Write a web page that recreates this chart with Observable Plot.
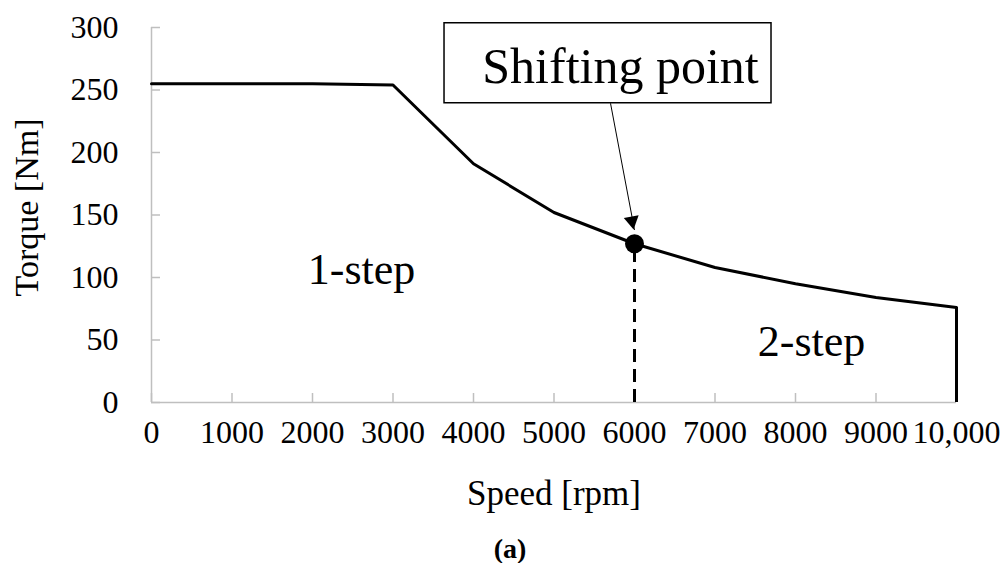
<!DOCTYPE html>
<html>
<head>
<meta charset="utf-8">
<script src="https://cdn.jsdelivr.net/npm/d3@7"></script>
<script src="https://cdn.jsdelivr.net/npm/@observablehq/plot@0.6"></script>
<style>
  html, body { margin: 0; padding: 0; background: white; overflow: hidden; }
  #chart svg { display: block; }
  #caption { height: 33px; padding-top: 5px; padding-left: 12px; line-height: 38px; text-align: center; font-family: "Liberation Serif", serif; font-weight: bold; font-size: 28px; color: #000; }
</style>
</head>
<body>
<div id="chart"></div>
<div id="caption">(a)</div>
<script>
// Data
const speed = [0, 1000, 2000, 3000, 4000, 5000, 6000, 7000, 8000, 9000, 10000];
const torque = [255, 255, 255, 254, 191, 152, 127, 108, 95, 84, 76];
const xTicks = [0, 1000, 2000, 3000, 4000, 5000, 6000, 7000, 8000, 9000, 10000];
const xTickLabels = ["0", "1000", "2000", "3000", "4000", "5000", "6000", "7000", "8000", "9000", "10,000"];
const yTicks = [0, 50, 100, 150, 200, 250, 300];
const shiftSpeed = 6000;
const shiftTorque = 127;
const regionLabels = [
  {text: "1-step", x: 2609, y: 95},
  {text: "2-step", x: 8199, y: 37.6}
];
const calloutBox = [{x1: 3640, x2: 7702, y1: 239.4, y2: 303.4}];
const calloutText = [{text: "Shifting point", x: 5826, y: 256}];
const calloutArrow = [{x1: 5702, y1: 239.4, x2: 6000, y2: 138}];
const arrowHead = [{x: 5969, y: 145.2}];

const W = 1008, H = 525;
const mL = 151, mR = 52, mT = 27, mB = 123;
const plotW = W - mL - mR, plotH = H - mT - mB;
const data = speed.map((s, i) => ({speed: s, torque: torque[i]}));
const axisGray = "#bfbfbf";

const chart = Plot.plot({
  width: W,
  height: H,
  marginLeft: mL,
  marginRight: mR,
  marginTop: mT,
  marginBottom: mB,
  style: {fontFamily: "Liberation Serif, Times New Roman, serif", fontSize: "32px", color: "black", background: "white"},
  x: {domain: [0, 10000]},
  y: {domain: [0, 300]},
  marks: [
    // axes lines & ticks
    Plot.ruleX([0], {y1: 0, y2: 300, stroke: axisGray, strokeWidth: 1.5}),
    Plot.ruleY([0], {x1: 0, x2: 10000, stroke: axisGray, strokeWidth: 1.5}),
    Plot.tickY(yTicks, {y: d => d, insetRight: plotW - 9, stroke: axisGray, strokeWidth: 1.5}),
    Plot.tickX(xTicks, {x: d => d, insetTop: plotH - 9, stroke: axisGray, strokeWidth: 1.5}),
    Plot.axisY({ticks: yTicks, tickSize: 0, tickPadding: 33, label: null, fontSize: 32}),
    Plot.axisX({ticks: xTicks, tickSize: 0, tickPadding: 18, label: null, fontSize: 32,
      tickFormat: (d) => xTickLabels[xTicks.indexOf(d)]}),
    // axis titles
    Plot.text(["Speed [rpm]"], {frameAnchor: "bottom", textAnchor: "middle", dy: 102, lineAnchor: "bottom", text: d => d, fontSize: 35, fill: "black"}),
    Plot.text(["Torque [Nm]"], {frameAnchor: "left", textAnchor: "middle", rotate: -90, dx: -113.5, dy: -7.5, lineAnchor: "bottom", text: d => d, fontSize: 34, fill: "black"}),
    // main curve
    Plot.line(data, {x: "speed", y: "torque", stroke: "black", strokeWidth: 3}),
    Plot.ruleX([speed[speed.length - 1]], {y1: 0, y2: torque[torque.length - 1], stroke: "black", strokeWidth: 3}),
    Plot.ruleX([shiftSpeed], {y1: 0, y2: shiftTorque, stroke: "black", strokeWidth: 3, strokeDasharray: "13,7"}),
    Plot.dot([{x: shiftSpeed, y: shiftTorque}], {x: "x", y: "y", r: 9.5, fill: "black", stroke: "none"}),
    // region labels
    Plot.text(regionLabels, {x: "x", y: "y", text: "text", fontSize: 44, lineAnchor: "bottom", fill: "black"}),
    // callout
    Plot.rect(calloutBox, {x1: "x1", x2: "x2", y1: "y1", y2: "y2", fill: "white", stroke: "black", strokeWidth: 1.5, clip: false}),
    Plot.text(calloutText, {x: "x", y: "y", text: "text", fontSize: 50, lineAnchor: "bottom", fill: "black"}),
    Plot.link(calloutArrow, {x1: "x1", y1: "y1", x2: "x2", y2: "y2", stroke: "black", strokeWidth: 1}),
    Plot.dot(arrowHead, {x: "x", y: "y", symbol: "triangle", r: 5.6, fill: "black", stroke: "none", rotate: 169.7})
  ]
});
document.getElementById("chart").appendChild(chart);
</script>
</body>
</html>
